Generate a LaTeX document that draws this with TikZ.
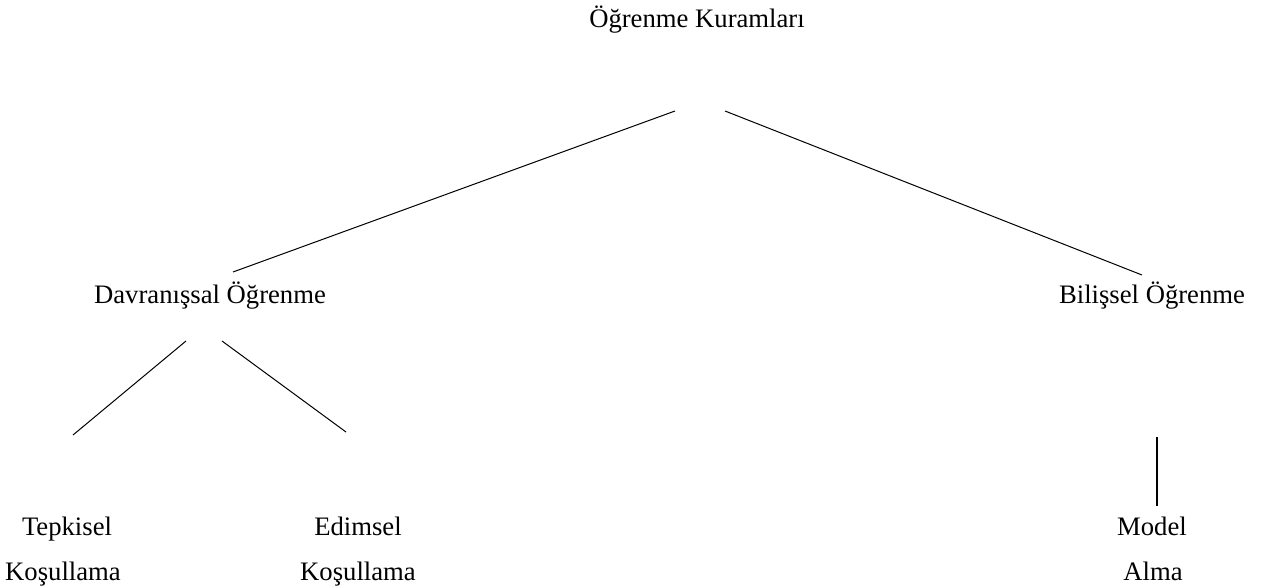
\documentclass[tikz,border=0pt]{standalone}
\usepackage{fontspec}
\setmainfont{Liberation Serif}
\usepackage{tikz}
\usetikzlibrary{positioning}

\begin{document}
\begin{tikzpicture}[x=0.75pt, y=-0.75pt, nodes={font=\fontsize{20}{24}\selectfont, anchor=base, inner sep=0pt}]
        \useasboundingbox (0,0) rectangle (1267,586);
        \node (kuram) at (697,27) {Öğrenme Kuramları};
        \node (davr) at (210,303) {Davranışsal Öğrenme};
        \node (bil) at (1152,303) {Bilişsel Öğrenme};
        \node (tep1) at (67,535) {Tepkisel};
        \node (tep2) at (63,580) {Koşullama};
        \node (edim1) at (358,535) {Edimsel};
        \node (edim2) at (358,580) {Koşullama};
        \node (model1) at (1152,535) {Model};
        \node (model2) at (1153,580) {Alma};
        
        \coordinate (kuram-l) at (675,111);
        \coordinate (kuram-r) at (725,111);
        \coordinate (davr-u) at (233,272);
        \coordinate (bil-u) at (1142,275);
        \coordinate (davr-l) at (186,341);
        \coordinate (davr-r) at (222,341);
        \coordinate (tep-u) at (73,435);
        \coordinate (edim-u) at (346,432);
        \coordinate (bil-d) at (1157,437);
        \coordinate (model-u) at (1157,506);
        
        \draw[line width=0.75pt] (kuram-l) -- (davr-u);
        \draw[line width=0.75pt] (kuram-r) -- (bil-u);
        \draw[line width=0.75pt] (davr-l) -- (tep-u);
        \draw[line width=0.75pt] (davr-r) -- (edim-u);
        \draw[line width=1.5pt] (bil-d) -- (model-u);
    
    \end{tikzpicture}
\end{document}
